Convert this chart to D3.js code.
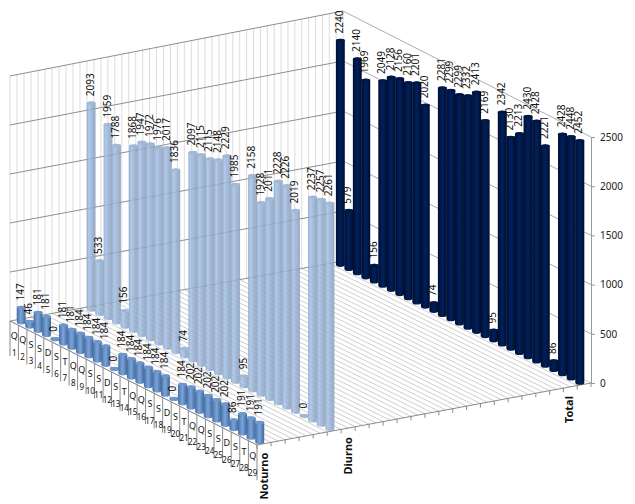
<!DOCTYPE html>
<html>
<head>
<meta charset="utf-8">
<script src="https://cdn.jsdelivr.net/npm/d3@7"></script>
<style>
  html, body { margin: 0; padding: 0; background: #fff; }
  svg { display: block; }
  text { font-family: "Noto Sans", sans-serif; fill: #111; }
  .axis path, .axis line { stroke: #999; }
  .axis text { font-family: "Noto Sans", sans-serif; font-size: 10px; fill: #222; }
</style>
</head>
<body>
<script>
// chart values
var days = ["1","2","3","4","5","6","7","8","9","10","11","12","13","14","15","16","17","18","19","20","21","22","23","24","25","26","27","28","29"];
var weekdays = ["Q","Q","S","S","D","S","T","Q","Q","S","S","D","S","T","Q","Q","S","S","D","S","T","Q","Q","S","S","D","S","T","Q"];
var seriesNames = ["Noturno", "Diurno", "Total"];
var noturno = [147,46,181,181,0,181,181,184,184,184,184,0,184,184,184,184,184,184,0,184,202,202,202,202,202,86,191,191,191];
var diurno = [2093,533,1959,1788,156,1868,1947,1972,1976,2017,1836,74,2097,2115,2115,2148,2229,1985,95,2158,1928,2011,2228,2226,2019,0,2237,2257,2261];
var total = [2240,579,2140,1969,156,2049,2128,2156,2160,2201,2020,74,2281,2299,2299,2332,2413,2169,95,2342,2130,2213,2430,2428,2221,86,2428,2448,2452];
var valueTicks = [0,500,1000,1500,2000,2500];

var width = 635;
var height = 504;

// floor corners on screen, day 0 / day 29 at front and back
var cornerA = [10, 321];
var cornerB = [257, 445];
var cornerC = [591, 383];
var cornerD = [343, 261];

// depth slots on the series axis
var depthSlots = 24;
var seriesDepth = [0.5, 5.5, 23.5];
var seriesLabelDepth = [0.5, 6.5, 22.4];

// setting up the scales
var dayScale = d3.scaleLinear().domain([0, days.length]).range([0, 1]);
var depthScale = d3.scaleLinear().domain([0, depthSlots]).range([0, 1]);
var valueScale = d3.scaleLinear().domain([0, 2500]).range([0, 1]);
var axisScale = d3.scaleLinear().domain([0, 2500]).range([cornerC[1], 137]);
var wallHeightFront = d3.scaleLinear().domain([0, 1]).range([245, 250]);
var wallHeightBack = d3.scaleLinear().domain([0, 1]).range([250, 246]);

// perspective mapping of the floor, unit square to the corners
var H = (function() {
  var x0 = cornerA[0], y0 = cornerA[1], x1 = cornerB[0], y1 = cornerB[1];
  var x2 = cornerC[0], y2 = cornerC[1], x3 = cornerD[0], y3 = cornerD[1];
  var dx1 = x1 - x2, dx2 = x3 - x2, sx = x0 - x1 + x2 - x3;
  var dy1 = y1 - y2, dy2 = y3 - y2, sy = y0 - y1 + y2 - y3;
  var det = dx1 * dy2 - dx2 * dy1;
  var g = (sx * dy2 - dx2 * sy) / det;
  var h = (dx1 * sy - sx * dy1) / det;
  return {
    a: x1 - x0 + g * x1, b: x3 - x0 + h * x3, c: x0,
    d: y1 - y0 + g * y1, e: y3 - y0 + h * y3, f: y0,
    g: g, h: h
  };
})();

function floorPoint(day, depth) {
  var u = dayScale(day), v = depthScale(depth);
  var w = H.g * u + H.h * v + 1;
  return [(H.a * u + H.b * v + H.c) / w, (H.d * u + H.e * v + H.f) / w];
}

function wallHeight(day, depth) {
  var u = dayScale(day), v = depthScale(depth);
  return wallHeightFront(u) * (1 - v) + wallHeightBack(u) * v;
}

function point3d(day, depth, value) {
  var p = floorPoint(day, depth);
  return [p[0], p[1] - valueScale(value) * wallHeight(day, depth)];
}

var svg = d3.select("body").append("svg")
  .attr("width", width)
  .attr("height", height);

// bar gradients
var gradients = [
  { id: "gradNoturno", stops: ["#45699a", "#6490c8", "#7aa3da", "#5a84b8", "#47699a"] },
  { id: "gradDiurno", stops: ["#8ca1bf", "#a3c3eb", "#98b3d8", "#91a6c4", "#8b9ebb"] },
  { id: "gradTotal", stops: ["#000e2c", "#001848", "#00205e", "#001846", "#000d2a"] }
];
var defs = svg.append("defs");
gradients.forEach(function(g) {
  var grad = defs.append("linearGradient").attr("id", g.id);
  g.stops.forEach(function(c, i) {
    grad.append("stop").attr("offset", (i / 4 * 100) + "%").attr("stop-color", c);
  });
});

function drawLine(parent, a, b, color) {
  parent.append("line")
    .attr("x1", a[0]).attr("y1", a[1])
    .attr("x2", b[0]).attr("y2", b[1])
    .attr("stroke", color)
    .attr("stroke-width", 1);
}

// walls and floor
var walls = svg.append("g");
d3.range(0, depthSlots + 0.5, 0.5).forEach(function(depth) {
  drawLine(walls, point3d(0, depth, 0), point3d(0, depth, 2500), "#dcdcdc");
  drawLine(walls, point3d(0, depth, 0), point3d(days.length, depth, 0), "#cfcfcf");
});
valueTicks.forEach(function(v) {
  if (v > 0) {
    drawLine(walls, point3d(0, 0, v), point3d(0, depthSlots, v), "#8e8e8e");
    drawLine(walls, point3d(0, depthSlots, v), point3d(days.length, depthSlots, v), "#adadad");
  }
});
drawLine(walls, point3d(0, 0, 0), point3d(0, depthSlots, 0), "#8e8e8e");

// day axis, separators hanging off the front edge
var dayAxis = svg.append("g");
drawLine(dayAxis, floorPoint(0, 0), floorPoint(days.length, 0), "#8a8a8a");
d3.range(0, days.length + 1).forEach(function(i) {
  var p = floorPoint(i, 0);
  drawLine(dayAxis, p, [p[0], p[1] + 35], "#8a8a8a");
});
days.forEach(function(d, i) {
  var p = floorPoint(i + 0.5, 0);
  dayAxis.append("text")
    .attr("x", p[0]).attr("y", p[1] + 13)
    .attr("dy", "0.35em")
    .attr("text-anchor", "middle")
    .style("font-size", "9px")
    .text(weekdays[i]);
  dayAxis.append("text")
    .attr("x", p[0]).attr("y", p[1] + 30)
    .attr("dy", "0.35em")
    .attr("text-anchor", "middle")
    .style("font-size", "8px")
    .text(d);
});

// series axis along the right floor edge
var seriesAxis = svg.append("g");
drawLine(seriesAxis, floorPoint(days.length, 0), floorPoint(days.length, depthSlots), "#8a8a8a");
d3.range(0, depthSlots + 1).forEach(function(depth) {
  var p = floorPoint(days.length, depth);
  drawLine(seriesAxis, p, [p[0], p[1] + 4], "#8a8a8a");
});
seriesNames.forEach(function(name, i) {
  var p = floorPoint(days.length, seriesLabelDepth[i]);
  seriesAxis.append("text")
    .attr("transform", "translate(" + p[0] + "," + (p[1] + 9) + ") rotate(-90)")
    .attr("dy", "0.35em")
    .attr("text-anchor", "end")
    .style("font-size", "11px")
    .style("font-weight", "bold")
    .text(name);
});

// value axis
svg.append("g")
  .attr("class", "axis")
  .attr("transform", "translate(" + cornerC[0] + ",0)")
  .call(d3.axisRight(axisScale).tickValues(valueTicks).tickSize(4).tickPadding(5).tickFormat(d3.format("d")));

// bars, back row first
var rows = [
  { values: total, depth: seriesDepth[2], fill: "url(#gradTotal)", cap: "#001848", opacity: 1 },
  { values: diurno, depth: seriesDepth[1], fill: "url(#gradDiurno)", cap: "#94aed0", opacity: 0.85 },
  { values: noturno, depth: seriesDepth[0], fill: "url(#gradNoturno)", cap: "#6f97cb", opacity: 1 }
];

rows.forEach(function(row) {
  var g = svg.append("g").attr("opacity", row.opacity);
  row.values.forEach(function(v, i) {
    var base = floorPoint(i + 0.5, row.depth);
    var top = point3d(i + 0.5, row.depth, v);
    var r = (floorPoint(i + 1, row.depth)[0] - floorPoint(i, row.depth)[0]) / 2 + 0.2;
    var x0 = base[0] - r, x1 = base[0] + r;
    g.append("path")
      .attr("d", "M" + x0 + "," + top[1] +
        "A" + r + ",1.8 0 0 1 " + x1 + "," + top[1] +
        "L" + x1 + "," + base[1] +
        "A" + r + ",2.6 0 0 1 " + x0 + "," + base[1] + "Z")
      .attr("fill", row.fill);
    g.append("ellipse")
      .attr("cx", base[0]).attr("cy", top[1])
      .attr("rx", r).attr("ry", 1.6)
      .attr("fill", row.cap);
  });
});

// data labels on top of everything
var labels = svg.append("g");
rows.forEach(function(row) {
  row.values.forEach(function(v, i) {
    var top = point3d(i + 0.5, row.depth, v);
    labels.append("text")
      .attr("transform", "translate(" + (top[0] - 1) + "," + (top[1] - 7) + ") rotate(-90)")
      .attr("dy", "0.35em")
      .style("font-size", "10px")
      .text(v);
  });
});
</script>
</body>
</html>
